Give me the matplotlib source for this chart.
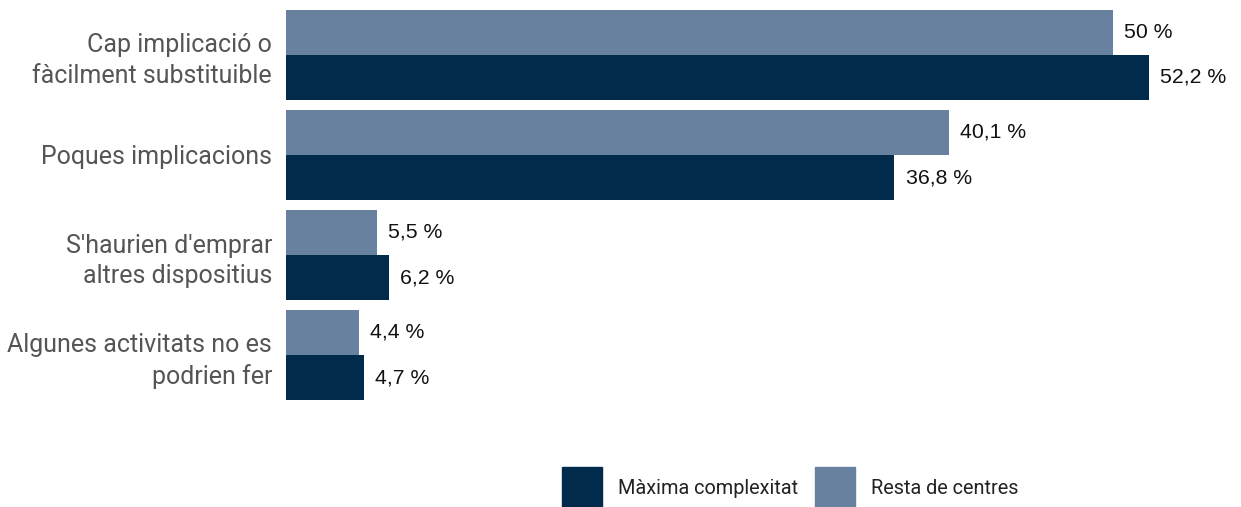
import matplotlib
matplotlib.use("Agg")
import matplotlib.pyplot as plt
from matplotlib.patches import Rectangle

categories = ["Cap implicació o\nfàcilment substituible", "Poques implicacions",
              "S'haurien d'emprar\naltres dispositius", "Algunes activitats no es\npodrien fer"]
resta = [50, 40.1, 5.5, 4.4]
maxima = [52.2, 36.8, 6.2, 4.7]
series_names = ["Màxima complexitat", "Resta de centres"]

c_dark = "#022A4A"
c_light = "#67819F"

def fmt(v):
    s = f"{v:.1f}".replace(".", ",")
    if s.endswith(",0"):
        s = s[:-2]
    return s + " %"

W, H = 1241, 507
fig = plt.figure(figsize=(W/100, H/100), dpi=100)
ax = fig.add_axes([286/W, (H-405)/H, (W-286)/W, 400/H])
ys = list(range(len(categories)))
h = 0.45
ax.barh([y - h/2 for y in ys], resta, height=h, color=c_light)
ax.barh([y + h/2 for y in ys], maxima, height=h, color=c_dark)
for y, v in zip(ys, resta):
    ax.annotate(fmt(v), (v, y - h/2), xytext=(8, 0), textcoords="offset points",
                va="center", ha="left", fontsize=15.3, family="Liberation Sans", color="#111111")
for y, v in zip(ys, maxima):
    ax.annotate(fmt(v), (v, y + h/2), xytext=(8, 0), textcoords="offset points",
                va="center", ha="left", fontsize=15.3, family="Liberation Sans", color="#111111")
ax.set_xlim(0, (W-286)/(863/52.2))
ax.set_ylim(3.5, -0.5)
ax.set_yticks(ys)
ax.set_yticklabels(categories, family="Roboto", fontsize=18, color="#555555", linespacing=1.35)
ax.tick_params(axis="y", length=0, pad=10)
ax.set_xticks([])
for s in ax.spines.values():
    s.set_visible(False)

# legend drawn in figure pixel coordinates
leg_items = [(series_names[0], c_dark, 562), (series_names[1], c_light, 815)]
for name, col, x0 in leg_items:
    fig.patches.append(Rectangle((x0/W, 0), 40/W, 40/H, transform=fig.transFigure,
                                 color=col, figure=fig))
    fig.text((x0 + 56)/W, (H - 489)/H, name, family="Roboto", fontsize=14.3,
             color="#222222", va="center", ha="left")
fig.savefig("out.png", dpi=100)
